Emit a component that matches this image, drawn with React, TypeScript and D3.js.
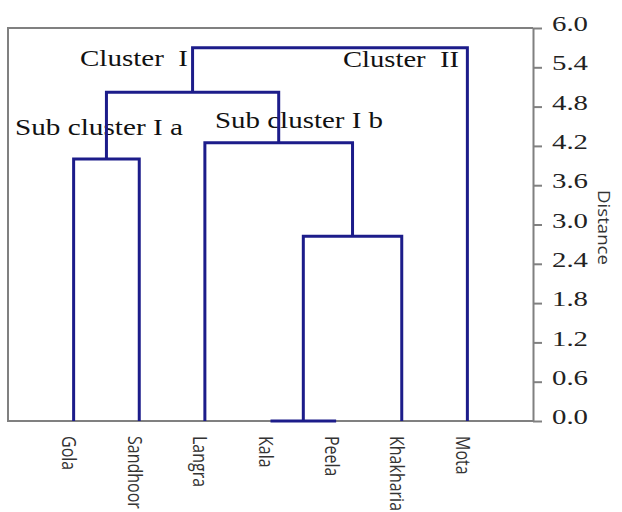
import { useEffect, useRef } from "react";
import * as d3 from "d3";

const leaves = ["Gola", "Sandhoor", "Langra", "Kala", "Peela", "Khakharia", "Mota"];

// linkage rows: [childA, childB, distance]; new node ids continue after the leaves
const linkage: [number, number, number][] = [
  [3, 4, 0.0],
  [7, 5, 2.82],
  [0, 1, 4.0],
  [2, 8, 4.25],
  [9, 10, 5.02],
  [11, 6, 5.7],
];

const yTicks = [0, 0.6, 1.2, 1.8, 2.4, 3.0, 3.6, 4.2, 4.8, 5.4, 6.0];

const annotations = [
  { text: "Cluster  I", x: 80, y: 66, len: 108 },
  { text: "Cluster  II", x: 343, y: 67, len: 116 },
  { text: "Sub cluster I a", x: 15, y: 135, len: 168 },
  { text: "Sub cluster I b", x: 215, y: 128, len: 168 },
];

const W = 622;
const H = 512;
const PLOT = { left: 8, right: 533, top: 28, bottom: 421 };
const LINE = "#1c1c8a";
const FRAME = "#808080";

export default function App() {
  const axisRef = useRef<SVGGElement>(null);

  const x = d3.scalePoint<string>().domain(leaves).range([PLOT.left, PLOT.right]).padding(1);
  const y = d3.scaleLinear().domain([0, 6]).range([PLOT.bottom, PLOT.top]);

  // node positions: leaves first, then merges
  const nodes: { x: number; h: number }[] = leaves.map((l) => ({ x: x(l) ?? 0, h: 0 }));
  const links: string[] = [];
  linkage.forEach(([a, b, d]) => {
    const na = nodes[a];
    const nb = nodes[b];
    const path = d3.path();
    path.moveTo(na.x, y(na.h));
    path.lineTo(na.x, y(d));
    path.lineTo(nb.x, y(d));
    path.lineTo(nb.x, y(nb.h));
    links.push(path.toString());
    nodes.push({ x: (na.x + nb.x) / 2, h: d });
  });

  useEffect(() => {
    if (!axisRef.current) return;
    const g = d3.select(axisRef.current);
    g.selectAll("*").remove();
    g.call(
      d3
        .axisRight(y)
        .tickValues(yTicks)
        .tickFormat((d) => Number(d).toFixed(1))
        .tickSize(9)
        .tickSizeOuter(0)
        .tickPadding(10)
    );
    g.selectAll(".domain, .tick line").attr("stroke", FRAME).attr("stroke-width", 2);
    g.selectAll(".tick text")
      .attr("fill", "#222")
      .attr("font-family", "'Liberation Serif', 'Times New Roman', serif")
      .attr("font-size", 22)
      .attr("dy", "0.12em")
      .attr("textLength", 36)
      .attr("lengthAdjust", "spacingAndGlyphs");
  }, []);

  return (
    <svg
      width={W}
      height={H}
      style={{ position: "absolute", left: 0, top: 0, background: "#fff" }}
    >
      {/* frame */}
      <path
        d={`M${PLOT.right},${PLOT.top}H${PLOT.left}V${PLOT.bottom}H${PLOT.right}`}
        fill="none"
        stroke={FRAME}
        strokeWidth={2}
      />
      <g ref={axisRef} transform={`translate(${PLOT.right},0)`} />

      {/* cluster annotations (under the tree lines) */}
      {annotations.map((a) => (
        <text
          key={a.text}
          x={a.x}
          y={a.y}
          fontFamily="'Liberation Serif', 'Times New Roman', serif"
          fontSize={23}
          fill="#111"
          textLength={a.len}
          lengthAdjust="spacingAndGlyphs"
          style={{ whiteSpace: "pre" }}
        >
          {a.text}
        </text>
      ))}

      {/* dendrogram */}
      {links.map((d, i) => (
        <path key={i} d={d} fill="none" stroke={LINE} strokeWidth={3} />
      ))}

      {/* leaf labels */}
      {leaves.map((l) => (
        <text
          key={l}
          transform={`translate(${(x(l) ?? 0) - 11.5},436) scale(1.3,1) rotate(90)`}
          fontFamily="'Open Sans', 'Noto Sans', sans-serif"
          fontSize={16}
          fill="#333"
        >
          {l}
        </text>
      ))}

      <text
        transform="translate(598,190) scale(1.3,1) rotate(90)"
        fontFamily="'Open Sans', 'Noto Sans', sans-serif"
        fontSize={12}
        fill="#333"
        textLength={75}
        lengthAdjust="spacingAndGlyphs"
      >
        Distance
      </text>
    </svg>
  );
}
